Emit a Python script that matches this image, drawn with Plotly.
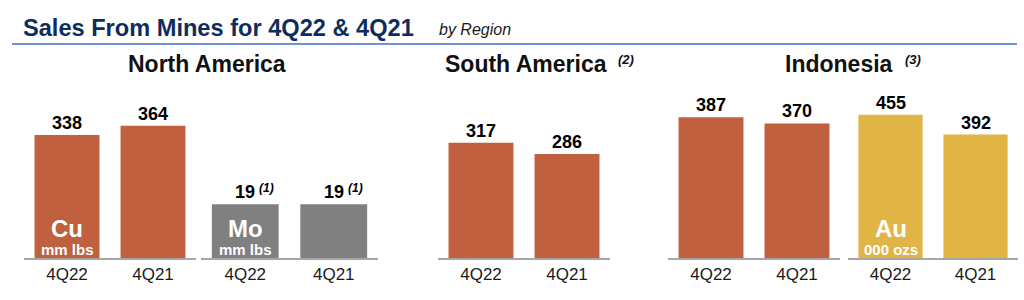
import plotly.graph_objects as go

W, H = 1024, 300

# ---- data ----
periods = ["4Q22", "4Q21"]
na_cu = [338, 364]
na_mo = [19, 19]
na_mo_notes = ["(1)", "(1)"]
sa_cu = [317, 286]
indo_cu = [387, 370]
indo_au = [455, 392]

title = "Sales From Mines for 4Q22 & 4Q21"
subtitle = "by Region"
regions = ["North America", "South America", "Indonesia"]
region_notes = ["", "(2)", "(3)"]

CU = "#c0603f"
MO = "#808080"
AU = "#e0b445"
FONT = "Arial, Liberation Sans, sans-serif"


def px(x):
    return x / W


def py(y):
    return 1 - y / H


base_y = py(258)

# panels: (values, color, x-domain in pixels, y range max)
panels = [
    (na_cu, CU, (24, 196), 709.5),
    (na_mo, MO, (201, 378), 91.3),
    (sa_cu, CU, (438, 610), 709.5),
    (indo_cu, CU, (668, 840), 709.5),
    (indo_au, AU, (848, 1018), 819),
]

fig = go.Figure()
layout = dict(
    width=W, height=H, margin=dict(l=0, r=0, t=0, b=0),
    paper_bgcolor="white", plot_bgcolor="white",
    showlegend=False, bargap=0.245,
    font=dict(family=FONT, color="#000"),
)
annotations = []

for i, (vals, color, (x0, x1), ymax) in enumerate(panels, start=1):
    xa = "x" if i == 1 else f"x{i}"
    ya = "y" if i == 1 else f"y{i}"
    fig.add_trace(go.Bar(x=periods, y=vals, marker=dict(color=color, line=dict(width=0)),
                         xaxis=xa, yaxis=ya, hoverinfo="skip"))
    xkey = "xaxis" if i == 1 else f"xaxis{i}"
    ykey = "yaxis" if i == 1 else f"yaxis{i}"
    layout[xkey] = dict(domain=[px(x0), px(x1)], anchor=ya, showline=True,
                        linecolor="#a6a6a6", linewidth=2, ticks="", showgrid=False,
                        zeroline=False, tickfont=dict(size=17, color="#1a1a1a", family=FONT),
                        fixedrange=True)
    layout[ykey] = dict(domain=[base_y, 1], anchor=xa, range=[0, ymax], visible=False,
                        showgrid=False, zeroline=False, fixedrange=True)
    for p, v in zip(periods, vals):
        annotations.append(dict(x=p, y=v, xref=xa, yref=ya, text=f"<b>{v}</b>",
                                showarrow=False, yanchor="bottom", xanchor="center", yshift=0,
                                font=dict(size=18, color="#000", family=FONT)))
    if vals is na_mo:
        for p, v, n in zip(periods, vals, na_mo_notes):
            annotations.append(dict(x=p, y=v, xref=xa, yref=ya, text=f"<b><i>{n}</i></b>",
                                    showarrow=False, yanchor="bottom", xanchor="left",
                                    xshift=12, yshift=7,
                                    font=dict(size=12, color="#000", family=FONT)))

# inner metal labels
inner = [("x", "Cu", "mm lbs"), ("x2", "Mo", "mm lbs"), ("x5", "Au", "000 ozs")]
for xa, big, small in inner:
    annotations.append(dict(x=periods[0], xref=xa, y=py(228.5), yref="paper",
                            xanchor="center", yanchor="middle",
                            text=f"<b>{big}</b>", showarrow=False,
                            font=dict(size=24, color="white", family=FONT)))
    annotations.append(dict(x=periods[0], xref=xa, y=py(249.5), yref="paper",
                            xanchor="center", yanchor="middle",
                            text=f"<b>{small}</b>", showarrow=False,
                            font=dict(size=15, color="white", family=FONT)))

# header
annotations.append(dict(x=px(21), y=py(28), xref="paper", yref="paper", xanchor="left",
                        yanchor="middle", text=f"<b>{title}</b>", showarrow=False,
                        font=dict(size=23.6, color="#0f2d5c", family=FONT)))
annotations.append(dict(x=px(437), y=py(29.5), xref="paper", yref="paper", xanchor="left",
                        yanchor="middle", text=f"<i>{subtitle}</i>", showarrow=False,
                        font=dict(size=16, color="#1a1a1a", family=FONT)))

# region titles
region_x = [207, 525.5, 838.5]
note_x = [None, 616, 903]
for name, note, cx, nx in zip(regions, region_notes, region_x, note_x):
    annotations.append(dict(x=px(cx), y=py(64), xref="paper", yref="paper",
                            xanchor="center", yanchor="middle",
                            text=f"<b>{name}</b>", showarrow=False,
                            font=dict(size=23, color="#111", family=FONT)))
    if note:
        annotations.append(dict(x=px(nx), y=py(60), xref="paper", yref="paper",
                                xanchor="left", yanchor="middle",
                                text=f"<b><i>{note}</i></b>", showarrow=False,
                                font=dict(size=13, color="#111", family=FONT)))

layout["annotations"] = annotations
layout["shapes"] = [dict(type="line", xref="paper", yref="paper", x0=px(12), x1=px(1017),
                         y0=py(44), y1=py(44), line=dict(color="#7090d6", width=2))]

fig.update_layout(**layout)
fig.write_html("out.html", config={"displayModeBar": False})
